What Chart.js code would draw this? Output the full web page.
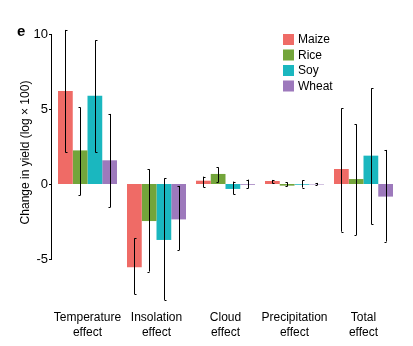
<!DOCTYPE html>
<html>
<head>
<meta charset="utf-8">
<script src="https://cdn.jsdelivr.net/npm/chart.js@4/dist/chart.umd.min.js"></script>
<style>
  html, body { margin: 0; padding: 0; background: #fff; }
  #wrap { width: 413px; height: 346px; position: relative; }
</style>
</head>
<body>
<div id="wrap"><canvas id="c" width="413" height="346"></canvas></div>
<script>
// ---- data ----
const categories = [['Temperature', 'effect'], ['Insolation', 'effect'], ['Cloud', 'effect'], ['Precipitation', 'effect'], ['Total', 'effect']];
const seriesNames = ['Maize', 'Rice', 'Soy', 'Wheat'];
const maize = [6.2, -5.55, 0.22, 0.2, 1.0];
const rice = [2.24, -2.47, 0.67, -0.11, 0.33];
const soy = [5.89, -3.73, -0.33, -0.05, 1.89];
const wheat = [1.58, -2.36, -0.05, -0.03, -0.84];
const maizeLow = [2.1, -7.35, -0.22, 0.04, -3.18];
const maizeHigh = [10.27, -3.62, 0.49, 0.27, 5.04];
const riceLow = [-0.75, -5.84, 0.11, -0.16, -3.4];
const riceHigh = [5.1, 0.98, 1.11, 0.11, 3.98];
const soyLow = [2.1, -7.73, -0.69, -0.24, -2.69];
const soyHigh = [9.58, 0.38, 0.16, 0.24, 6.38];
const wheatLow = [-1.55, -4.4, -0.29, -0.07, -3.84];
const wheatHigh = [4.67, -0.13, 0.29, 0.07, 2.27];
const yTicks = [-5, 0, 5, 10];
const yTitle = 'Change in yield (log \u00d7 100)';
const panelLetter = 'e';

// ---- style ----
const colors = ['#EF6B66', '#73A53B', '#1AB7BF', '#9D79BC'];
const capDir = [1, -1, 1, -1];
const FONT = '"Liberation Sans", Arial, Helvetica, sans-serif';

const values = [maize, rice, soy, wheat];
const lows = [maizeLow, riceLow, soyLow, wheatLow];
const highs = [maizeHigh, riceHigh, soyHigh, wheatHigh];

const decor = {
  id: 'decor',
  afterDatasetsDraw(chart) {
    const ctx = chart.ctx;
    const y = chart.scales.y;
    const area = chart.chartArea;
    ctx.save();
    // error bars
    ctx.strokeStyle = '#000';
    ctx.lineWidth = 1;
    values.forEach((_, di) => {
      const meta = chart.getDatasetMeta(di);
      meta.data.forEach((bar, i) => {
        const x = Math.round(bar.x) + 0.5;
        const y1 = y.getPixelForValue(lows[di][i]);
        const y2 = y.getPixelForValue(highs[di][i]);
        ctx.beginPath();
        ctx.moveTo(x, y1);
        ctx.lineTo(x, y2);
        ctx.moveTo(x, Math.round(y1) + 0.5);
        ctx.lineTo(x + 2 * capDir[di], Math.round(y1) + 0.5);
        ctx.moveTo(x, Math.round(y2) + 0.5);
        ctx.lineTo(x + 2 * capDir[di], Math.round(y2) + 0.5);
        ctx.stroke();
      });
    });
    // y axis line + ticks
    const ax = area.left - 1.5;
    const top = Math.round(y.getPixelForValue(yTicks[yTicks.length - 1]));
    const bot = Math.round(y.getPixelForValue(yTicks[0]));
    ctx.beginPath();
    ctx.moveTo(ax, top);
    ctx.lineTo(ax, bot + 1);
    yTicks.forEach(v => {
      const py = Math.round(y.getPixelForValue(v)) + 0.5;
      ctx.moveTo(ax, py);
      ctx.lineTo(ax - 2.5, py);
    });
    ctx.stroke();
    // y title
    ctx.fillStyle = '#000';
    ctx.font = '12px ' + FONT;
    ctx.textAlign = 'center';
    ctx.textBaseline = 'middle';
    ctx.translate(26, 152.5);
    ctx.rotate(-Math.PI / 2);
    ctx.fillText(yTitle, 0, 0);
    ctx.setTransform(1, 0, 0, 1, 0, 0);
    // panel letter
    ctx.font = 'bold 15px ' + FONT;
    ctx.textAlign = 'left';
    ctx.textBaseline = 'alphabetic';
    ctx.fillText(panelLetter, 17, 36);
    // legend
    ctx.font = '12px ' + FONT;
    ctx.textBaseline = 'middle';
    seriesNames.forEach((n, i) => {
      const ly = 34 + i * 15.5;
      ctx.fillStyle = colors[i];
      ctx.fillRect(283, ly, 11, 11);
      ctx.fillStyle = '#000';
      ctx.fillText(n, 298, ly + 6);
    });
    ctx.restore();
  }
};

new Chart(document.getElementById('c'), {
  type: 'bar',
  data: {
    labels: categories,
    datasets: seriesNames.map((n, i) => ({
      label: n,
      data: values[i],
      backgroundColor: colors[i],
      borderWidth: 0,
      categoryPercentage: 0.855,
      barPercentage: 1.0
    }))
  },
  options: {
    responsive: false,
    animation: false,
    devicePixelRatio: 1,
    layout: { padding: { left: 0, top: 28, right: 15, bottom: 0 } },
    plugins: { legend: { display: false }, tooltip: { enabled: false } },
    scales: {
      x: {
        grid: { display: false, drawTicks: false },
        border: { display: false },
        ticks: { color: '#000', font: { family: FONT, size: 12, lineHeight: 1.25 }, padding: 5, maxRotation: 0, autoSkip: false },
        afterFit(s) { s.height = 41; }
      },
      y: {
        min: -8.0667,
        max: 10.4,
        grid: { display: false, drawTicks: false },
        border: { display: false },
        afterBuildTicks(s) { s.ticks = yTicks.map(v => ({ value: v })); },
        ticks: { color: '#000', font: { family: FONT, size: 13 }, padding: 5 },
        afterFit(s) { s.width = 53; }
      }
    }
  },
  plugins: [decor]
});
</script>
</body>
</html>
